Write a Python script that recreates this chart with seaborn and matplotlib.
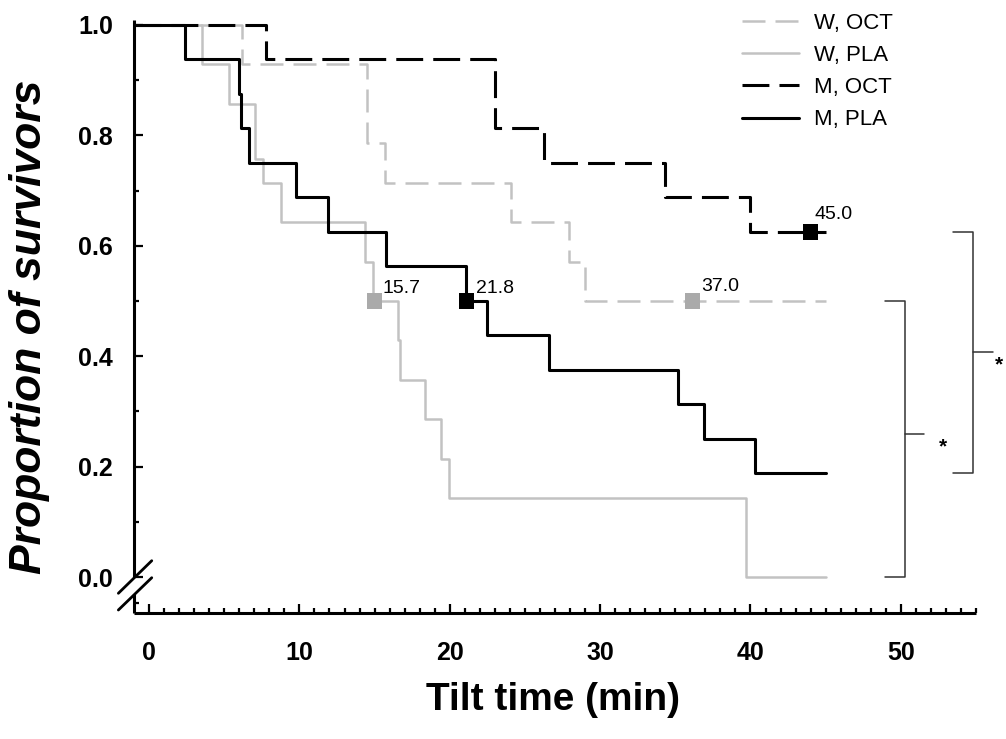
import matplotlib
matplotlib.use("Agg")
import matplotlib.pyplot as plt
import numpy as np
import pandas as pd
import seaborn as sns
from matplotlib.ticker import FixedLocator

# ---------------- data ----------------
w_oct_t = [-1, 6.16, 14.5, 15.7, 24.1, 27.9, 29.0, 45.0]
w_oct_s = [1.0, 0.929, 0.786, 0.714, 0.643, 0.571, 0.5, 0.5]

w_pla_t = [-1, 3.5, 5.3, 7.04, 7.6, 8.8, 14.35, 14.9, 16.56, 16.68, 18.34, 19.4, 19.95, 39.7, 45.0]
w_pla_s = [1.0, 0.929, 0.857, 0.757, 0.714, 0.643, 0.571, 0.5, 0.429, 0.357, 0.286, 0.214, 0.143, 0.0, 0.0]

m_oct_t = [-1, 7.75, 23.0, 26.3, 34.3, 40.0, 45.0]
m_oct_s = [1.0, 0.9375, 0.8125, 0.75, 0.6875, 0.625, 0.625]

m_pla_t = [-1, 2.4, 6.0, 6.1, 6.64, 9.77, 11.9, 15.73, 21.1, 22.5, 26.6, 35.2, 36.9, 40.3, 45.0]
m_pla_s = [1.0, 0.9375, 0.875, 0.8125, 0.75, 0.6875, 0.625, 0.5625, 0.5, 0.4375, 0.375, 0.3125, 0.25, 0.1875, 0.1875]

groups = ["W, OCT", "W, PLA", "M, OCT", "M, PLA"]

median_groups = ["W, PLA", "M, PLA", "W, OCT", "M, OCT"]
median_t = [15.0, 21.1, 36.15, 43.97]
median_s = [0.5, 0.5, 0.5, 0.625]
median_labels = ["15.7", "21.8", "37.0", "45.0"]

x_major = [0, 10, 20, 30, 40, 50]
y_major = [0.0, 0.2, 0.4, 0.6, 0.8, 1.0]
y_major_labels = ["0.0", "0.2", "0.4", "0.6", "0.8", "1.0"]

# ---------------- styling ----------------
GRAY = "#c2c2c2"
GRAY_MK = "#aaaaaa"
BLACK = "#000000"

sns.set_theme(style="ticks")
plt.rcParams["font.family"] = ["Liberation Sans", "DejaVu Sans"]
plt.rcParams["text.color"] = "black"

W, H = 1006, 739
fig = plt.figure(figsize=(W / 100, H / 100), dpi=100)
fig.patch.set_facecolor("white")
ax = fig.add_axes([134 / W, 1 - 613 / H, (976 - 134) / W, (613 - 20) / H])
ax.set_facecolor("white")
ax.set_xlim(-1, 55)
ax.set_ylim(-0.0652, 1.009)

series = {
    "W, OCT": (w_oct_t, w_oct_s),
    "W, PLA": (w_pla_t, w_pla_s),
    "M, OCT": (m_oct_t, m_oct_s),
    "M, PLA": (m_pla_t, m_pla_s),
}
style = {
    "W, OCT": dict(color=GRAY, lw=1.8, ls=(0, (9.2, 4.0))),
    "W, PLA": dict(color=GRAY, lw=1.8, ls="-"),
    "M, OCT": dict(color=BLACK, lw=2.2, ls=(0, (8.8, 3.3))),
    "M, PLA": dict(color=BLACK, lw=2.2, ls="-"),
}

frames = []
for g in groups:
    t, s = series[g]
    frames.append(pd.DataFrame({"t": t, "S": s, "group": g}))
df = pd.concat(frames, ignore_index=True)

for g in groups:
    sub = df[df["group"] == g]
    st = style[g]
    sns.lineplot(data=sub, x="t", y="S", ax=ax, estimator=None, sort=False,
                 drawstyle="steps-post", color=st["color"], linewidth=st["lw"],
                 linestyle=st["ls"], label=g, clip_on=False)

# median markers
mk_df = pd.DataFrame({"t": median_t, "S": median_s, "group": median_groups})
mk_colors = {"W, PLA": GRAY_MK, "W, OCT": GRAY_MK, "M, PLA": BLACK, "M, OCT": BLACK}
sns.scatterplot(data=mk_df, x="t", y="S", hue="group", palette=mk_colors, marker="s",
                s=120, linewidth=0, ax=ax, legend=False, zorder=5, clip_on=False)

label_offsets = [(8, 8), (10, 8), (9, 10), (4, 13)]
for t, s, lab, off in zip(median_t, median_s, median_labels, label_offsets):
    ax.annotate(lab, xy=(t, s), xytext=off, textcoords="offset pixels",
                ha="left", va="baseline", fontsize=14, color="black")

# axes / spines
for sp in ["top", "right"]:
    ax.spines[sp].set_visible(False)
ax.spines["left"].set_bounds(0, 1.009)
for sp in ["left", "bottom"]:
    ax.spines[sp].set_linewidth(2.2)
    ax.spines[sp].set_color("black")
    ax.spines[sp].set_capstyle("butt")

ax.xaxis.set_major_locator(FixedLocator(x_major))
ax.xaxis.set_minor_locator(FixedLocator([v for v in range(1, 56) if v % 10 != 0]))
ax.yaxis.set_major_locator(FixedLocator(y_major))
ax.yaxis.set_minor_locator(FixedLocator([-0.047, 0.1, 0.3, 0.5, 0.7, 0.9]))
ax.set_xticklabels([str(v) for v in x_major])
ax.set_yticklabels(y_major_labels)

ax.tick_params(axis="both", which="major", direction="in", length=6.5, width=1.6,
               color="black", labelsize=18, labelcolor="black")
ax.tick_params(axis="both", which="minor", direction="in", length=3.6, width=1.6,
               color="black")
ax.tick_params(axis="x", which="major", pad=20)
ax.tick_params(axis="y", which="major", pad=15)
for lab in ax.get_xticklabels() + ax.get_yticklabels():
    lab.set_fontweight("bold")

ax.set_xlabel("")
ax.set_ylabel("")

# axis break
ax.plot([-1, -1], [-0.0652, -0.03], color="black", lw=2.2, clip_on=False,
        solid_capstyle="butt")
ax.plot([-2.04, 0.18], [-0.0295, 0.0295], color="black", lw=2.0, clip_on=False)
ax.plot([-2.04, 0.18], [-0.0598, -0.0013], color="black", lw=2.0, clip_on=False)

# significance brackets
BR = "#333333"
ax.plot([48.97, 50.3, 50.3, 48.97], [0.5, 0.5, 0.0, 0.0], color=BR, lw=1.1, clip_on=False)
ax.plot([50.3, 51.56], [0.2585, 0.2585], color=BR, lw=1.1, clip_on=False)
ax.text(52.5, 0.236, "*", fontsize=15, fontweight="bold", ha="left", va="center",
        color="black")
ax.plot([53.5, 54.8, 54.8, 53.5], [0.625, 0.625, 0.1875, 0.1875], color=BR, lw=1.1, clip_on=False)
ax.plot([54.8, 56.1], [0.408, 0.408], color=BR, lw=1.1, clip_on=False)
ax.text(56.25, 0.385, "*", fontsize=15, fontweight="bold", ha="left", va="center",
        color="black")

# legend
leg = ax.legend(loc="upper left", bbox_to_anchor=(741.7 / W, 1 - 13 / H),
                bbox_transform=fig.transFigure, frameon=False, fontsize=16,
                handlelength=2.6, handletextpad=0.65, labelspacing=0.5,
                borderpad=0, borderaxespad=0)
for txt in leg.get_texts():
    txt.set_color("black")

# axis titles
fig.text(30 / W, 1 - 327 / H, "Proportion of survivors", rotation=90,
         ha="center", va="center", fontsize=32, fontweight="bold", style="italic",
         color="black")
fig.text(553 / W, 1 - 700 / H, "Tilt time (min)", ha="center", va="center",
         fontsize=28, fontweight="bold", color="black")

fig.savefig("out.png", dpi=100, facecolor="white")
